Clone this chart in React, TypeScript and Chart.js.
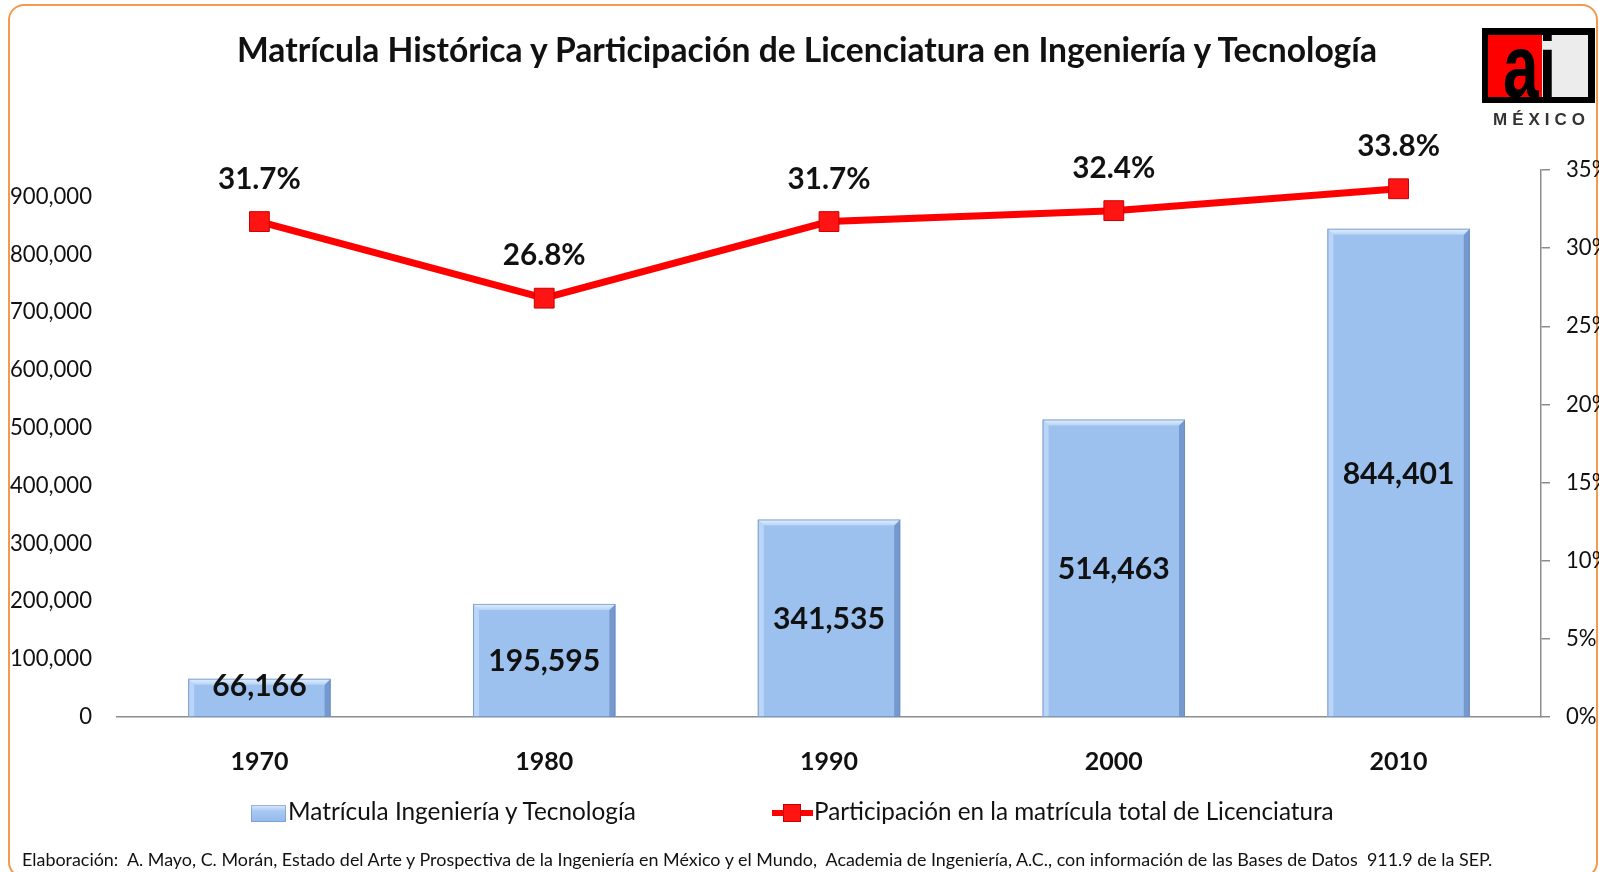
import React, { useEffect, useRef, useMemo } from 'react';
import { Chart, registerables } from 'chart.js';

Chart.register(...registerables);

// ---------- data ----------
const categories = ['1970', '1980', '1990', '2000', '2010'];
const enrollment = [66166, 195595, 341535, 514463, 844401];
const sharePct = [31.7, 26.8, 31.7, 32.4, 33.8];
const leftTickValues = [0, 100000, 200000, 300000, 400000, 500000, 600000, 700000, 800000, 900000];
const rightTickValues = [0, 5, 10, 15, 20, 25, 30, 35];

const TITLE = 'Matrícula Histórica y Participación de Licenciatura en Ingeniería y Tecnología';
const LEGEND_BAR = 'Matrícula Ingeniería y Tecnología';
const LEGEND_LINE = 'Participación en la matrícula total de Licenciatura';
const FOOTER =
  'Elaboración:  A. Mayo, C. Morán, Estado del Arte y Prospectiva de la Ingeniería en México y el Mundo,  Academia de Ingeniería, A.C., con información de las Bases de Datos  911.9 de la SEP.';

const FONT = 'Lato';
const INK = '#111111';

function fitSize(text: string, weight: string, target: number, family = FONT): number {
  const c = document.createElement('canvas').getContext('2d')!;
  c.font = `${weight} 100px ${family}`;
  const w = c.measureText(text).width || 1;
  return (100 * target) / w;
}

const fmt = (v: number) => v.toLocaleString('en-US');

export default function App() {
  const ref = useRef<HTMLCanvasElement>(null);

  const sizes = useMemo(
    () => ({
      title: fitSize(TITLE, 'bold', 1145),
      legBar: fitSize(LEGEND_BAR, 'normal', 350),
      legLine: fitSize(LEGEND_LINE, 'normal', 520),
      footer: fitSize(FOOTER, 'normal', 1475),
    }),
    []
  );

  useEffect(() => {
    const canvas = ref.current!;
    const tickSize = fitSize('900,000', 'normal', 82);
    const xSize = fitSize('1970', 'bold', 58);
    const barLblSize = fitSize('195,595', 'bold', 112);
    const ptLblSize = fitSize('33.8%', 'bold', 83);

    const bevel = {
      id: 'bevel',
      afterDatasetDraw(chart: any, args: any) {
        const ds = chart.data.datasets[args.index];
        if (ds.type !== 'bar') return;
        const ctx = chart.ctx;
        const b = 6;
        args.meta.data.forEach((el: any) => {
          const { x, y, base, width } = el.getProps(['x', 'y', 'base', 'width'], true);
          const l = x - width / 2;
          const r = x + width / 2;
          ctx.save();
          ctx.fillStyle = 'rgba(190,215,248,0.9)';
          ctx.beginPath();
          ctx.moveTo(l, y);
          ctx.lineTo(l + b, y + b);
          ctx.lineTo(l + b, base);
          ctx.lineTo(l, base);
          ctx.closePath();
          ctx.fill();
          ctx.fillStyle = 'rgba(110,145,200,0.85)';
          ctx.beginPath();
          ctx.moveTo(r, y);
          ctx.lineTo(r - b, y + b);
          ctx.lineTo(r - b, base);
          ctx.lineTo(r, base);
          ctx.closePath();
          ctx.fill();
          const g = ctx.createLinearGradient(0, y, 0, y + b);
          g.addColorStop(0, '#e4f0fd');
          g.addColorStop(1, '#b7d3f6');
          ctx.fillStyle = g;
          ctx.beginPath();
          ctx.moveTo(l, y);
          ctx.lineTo(r, y);
          ctx.lineTo(r - b, y + b);
          ctx.lineTo(l + b, y + b);
          ctx.closePath();
          ctx.fill();
          ctx.strokeStyle = 'rgba(100,135,190,0.7)';
          ctx.lineWidth = 1;
          ctx.strokeRect(l + 0.5, y + 0.5, width - 1, base - y - 1);
          ctx.restore();
        });
      },
    };

    const valueLabels = {
      id: 'valueLabels',
      afterDatasetsDraw(chart: any) {
        const ctx = chart.ctx;
        ctx.save();
        ctx.fillStyle = INK;
        ctx.textAlign = 'center';
        ctx.textBaseline = 'alphabetic';
        chart.data.datasets.forEach((ds: any, i: number) => {
          const meta = chart.getDatasetMeta(i);
          meta.data.forEach((el: any, j: number) => {
            if (ds.type === 'bar') {
              const { x, y, base } = el.getProps(['x', 'y', 'base'], true);
              const cy = Math.min((y + base) / 2, base - 32);
              ctx.font = `bold ${barLblSize}px ${FONT}`;
              ctx.fillText(fmt(ds.data[j]), x, cy + 0.36 * barLblSize);
            } else {
              const { x, y } = el.getProps(['x', 'y'], true);
              const cy = y - 43.5;
              ctx.font = `bold ${ptLblSize}px ${FONT}`;
              ctx.fillText(ds.data[j].toFixed(1) + '%', x, cy + 0.36 * ptLblSize);
            }
          });
        });
        ctx.restore();
      },
    };

    const chart = new Chart(canvas, {
      type: 'bar',
      data: {
        labels: categories,
        datasets: [
          {
            type: 'line',
            label: LEGEND_LINE,
            data: sharePct,
            yAxisID: 'y1',
            order: 0,
            borderColor: '#ff0000',
            borderWidth: 7,
            pointStyle: 'rect',
            pointRadius: 14,
            pointHoverRadius: 14,
            pointBackgroundColor: '#ff1414',
            pointBorderColor: '#c80000',
            pointBorderWidth: 1,
            tension: 0,
            fill: false,
          } as any,
          {
            type: 'bar',
            label: LEGEND_BAR,
            data: enrollment,
            yAxisID: 'y',
            order: 1,
            backgroundColor: '#9cc1ef',
            borderWidth: 0,
            barPercentage: 0.5,
            categoryPercentage: 1,
          } as any,
        ],
      },
      options: {
        animation: false,
        responsive: true,
        maintainAspectRatio: false,
        layout: { padding: { top: 170, left: 0, right: 0, bottom: 0 } },
        plugins: {
          legend: { display: false },
          title: { display: false },
          tooltip: { enabled: false },
        },
        scales: {
          x: {
            type: 'category',
            offset: true,
            grid: { display: false, drawTicks: false },
            border: { display: true, color: '#8c8c8c', width: 1.5 },
            ticks: { font: { family: FONT, size: xSize, weight: 'bold' }, color: INK, padding: 30 },
            afterFit(s: any) {
              s.height = 872 - 717;
            },
          },
          y: {
            position: 'left',
            min: 0,
            max: 946000,
            grid: { display: false, drawTicks: false },
            border: { display: false },
            ticks: {
              callback: (v: any) => fmt(Number(v)),
              font: { family: FONT, size: tickSize },
              color: INK,
              padding: 25,
            },
            afterBuildTicks(s: any) {
              s.ticks = leftTickValues.map((value) => ({ value }));
            },
            afterFit(s: any) {
              s.width = 117;
            },
          },
          y1: {
            position: 'right',
            min: 0,
            max: 35,
            grid: { display: true, drawOnChartArea: false, drawTicks: true, tickLength: 9, color: '#8c8c8c', lineWidth: 1.5 },
            border: { display: true, color: '#8c8c8c', width: 1.5 },
            ticks: {
              callback: (v: any) => v + '%',
              font: { family: FONT, size: tickSize },
              color: INK,
              padding: 16,
            },
            afterBuildTicks(s: any) {
              s.ticks = rightTickValues.map((value) => ({ value }));
            },
            afterFit(s: any) {
              s.width = 1599 - 1541;
            },
          },
        },
      } as any,
      plugins: [bevel, valueLabels],
    });
    return () => chart.destroy();
  }, []);

  const txt = (size: number, capCenter: number): React.CSSProperties => ({
    position: 'absolute',
    top: capCenter - 0.527 * size,
    fontSize: size,
    lineHeight: `${size}px`,
    whiteSpace: 'pre',
    fontFamily: FONT,
    color: INK,
  });

  return (
    <div
      style={{
        position: 'fixed',
        left: 0,
        top: 0,
        width: 1599,
        height: 872,
        overflow: 'hidden',
        background: '#ffffff',
      }}
    >
      {/* orange frame */}
      <div
        style={{
          position: 'absolute',
          left: 8,
          top: 4,
          width: 1590,
          height: 874,
          border: '2px solid #f39a4c',
          borderRadius: 16,
          boxSizing: 'border-box',
        }}
      />
      <div style={{ position: 'absolute', left: 0, top: 0, width: 1599, height: 872 }}>
        <canvas ref={ref} />
      </div>

      {/* title */}
      <div
        style={{
          ...txt(sizes.title, 51),
          left: 807,
          transform: 'translateX(-50%)',
          fontWeight: 'bold',
        }}
      >
        {TITLE}
      </div>

      {/* logo */}
      <div style={{ position: 'absolute', left: 1482, top: 28, width: 113, height: 75, background: '#000' }}>
        <div style={{ position: 'absolute', left: 6, top: 7, width: 54, height: 62, background: '#ff0000' }} />
        <div style={{ position: 'absolute', left: 60, top: 7, width: 46, height: 62, background: '#ececec' }} />
      </div>
      <div
        style={{
          position: 'absolute',
          left: 1503,
          top: 22,
          fontFamily: '"Liberation Sans", Arial, sans-serif',
          fontWeight: 'bold',
          fontSize: 64,
          lineHeight: '64px',
          color: '#000',
          transform: 'scaleY(1.38)',
          transformOrigin: '0 0',
          whiteSpace: 'pre',
        }}
      >
        ai
      </div>
      <div
        style={{
          position: 'absolute',
          left: 1493,
          top: 110,
          fontFamily: '"Liberation Sans", Arial, sans-serif',
          fontWeight: 'bold',
          fontSize: 17,
          lineHeight: '20px',
          letterSpacing: 5,
          color: '#333',
          whiteSpace: 'pre',
        }}
      >
        MÉXICO
      </div>

      {/* legend */}
      <div
        style={{
          position: 'absolute',
          left: 251,
          top: 805,
          width: 35,
          height: 17,
          background: 'linear-gradient(to bottom, #dcebfc 0%, #a9c9f3 35%, #93b8ea 100%)',
          boxShadow: 'inset 0 0 0 1px rgba(110,145,200,0.6)',
        }}
      />
      <div style={{ ...txt(sizes.legBar, 812), left: 288 }}>{LEGEND_BAR}</div>
      <div
        style={{ position: 'absolute', left: 772, top: 810, width: 41, height: 6, background: '#ff0000' }}
      />
      <div
        style={{
          position: 'absolute',
          left: 783,
          top: 804,
          width: 18,
          height: 18,
          background: '#ff1414',
          boxShadow: 'inset 0 0 0 1px #c80000',
        }}
      />
      <div style={{ ...txt(sizes.legLine, 812), left: 814 }}>{LEGEND_LINE}</div>

      {/* footer */}
      <div style={{ ...txt(sizes.footer, 860), left: 22 }}>{FOOTER}</div>
    </div>
  );
}
